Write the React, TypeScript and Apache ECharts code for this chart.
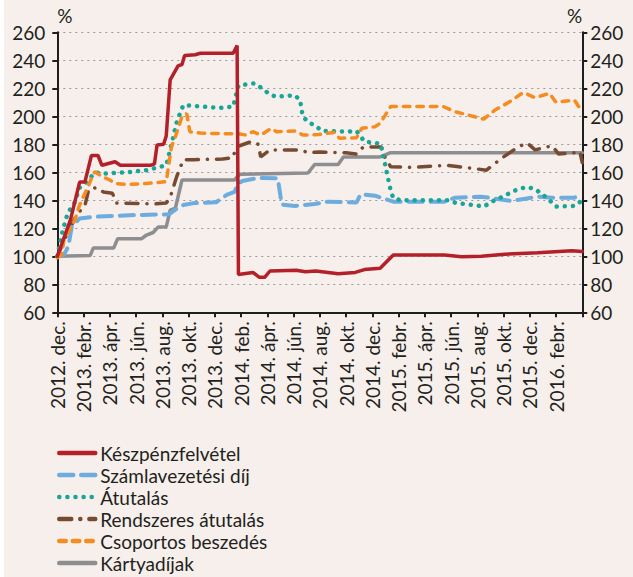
import React, { useEffect, useRef } from "react";
import * as echarts from "echarts";

// x = months since 2012 December
const xLabels = [
  "2012. dec.", "2013. febr.", "2013. ápr.", "2013. jún.", "2013. aug.", "2013. okt.", "2013. dec.",
  "2014. feb.", "2014. ápr.", "2014. jún.", "2014. aug.", "2014. okt.", "2014. dec.",
  "2015. febr.", "2015. ápr.", "2015. jún.", "2015. aug.", "2015. okt.", "2015. dec.", "2016. febr.",
];
const yTicks = [60, 260, 20];

const keszpenz = [
  [0, 100], [1.0, 126], [1.7, 153], [2.1, 153], [2.6, 172], [3.1, 172], [3.4, 165], [4.4, 167.5], [4.8, 165],
  [7.1, 165], [7.4, 166], [7.6, 179.5], [8.1, 180], [8.3, 186], [8.6, 226], [9.2, 236], [9.5, 237],
  [9.7, 243.5], [10.5, 244], [10.9, 245], [13.4, 245], [13.7, 250.5], [13.8, 87], [14.9, 88.5], [15.4, 85],
  [15.8, 85], [16.2, 89.5], [18.2, 90], [18.9, 89], [19.7, 89.5], [21.4, 87.5], [22.7, 88.5], [23.4, 90.5],
  [24.6, 91.5], [25.6, 101], [29.5, 101], [30.8, 99.7], [32.3, 100], [34.1, 101.5], [36.6, 102.5],
  [39.2, 104], [40, 103.5],
];
const szamla = [
  [0, 100], [0.5, 101], [0.84, 107], [1.1, 121], [1.7, 127], [2.9, 128.3], [6, 129.5], [8.5, 130],
  [9.1, 134], [9.6, 136.6], [10.4, 138], [12.1, 138.6], [12.9, 143.8], [13.5, 146], [13.8, 152],
  [14.1, 153.8], [15.3, 156], [16.8, 155.7], [17.1, 137], [18.1, 136], [19.6, 137.4], [20.6, 139],
  [22.8, 138.5], [23.1, 144.3], [24.2, 143.3], [25.6, 139], [29.5, 139], [30.3, 141.9], [32.3, 142.6],
  [34.6, 139.5], [36.6, 142.6], [37.7, 141.9], [39.4, 141.9], [40, 144],
];
const atutalas = [
  [0, 100], [0.4, 118], [0.8, 131], [1.3, 138], [1.7, 149], [2.1, 152], [2.9, 160], [3.5, 159], [5.3, 160],
  [6.8, 161.5], [8.3, 165], [8.7, 180], [9.1, 196], [9.6, 208], [10.9, 207], [12.4, 206], [13.4, 207],
  [13.8, 222], [15, 223.5], [15.6, 220], [16.2, 215.5], [16.7, 214], [18.1, 215], [18.5, 211.5],
  [18.7, 200], [19.1, 196], [19.6, 193.5], [20.2, 189.5], [22.1, 189], [22.8, 189.5], [23.4, 182],
  [24.6, 180.5], [24.8, 173.5], [25.1, 160], [25.4, 147], [25.6, 141.5], [26.2, 140], [29.8, 140],
  [30.4, 138], [31.8, 136.5], [32.5, 135.5], [33.1, 139], [33.9, 142.5], [35.1, 148], [35.8, 149.5],
  [36.4, 148], [37, 144], [37.5, 140], [38, 135.5], [39.4, 136], [40, 140],
];
const rendszeres = [
  [0, 100], [0.8, 117], [1.5, 130], [2.1, 136], [2.4, 148], [3.0, 149], [3.5, 146], [4.2, 145], [4.5, 138],
  [7.5, 137.5], [8.3, 138], [8.6, 142], [9.1, 157], [9.6, 169], [10.4, 169], [12.6, 169.5], [13.4, 170.5],
  [13.6, 178], [14.8, 182], [15.3, 180], [15.5, 171], [16.2, 176], [17.1, 176], [18.5, 176], [19.1, 174],
  [20, 174.5], [22, 174], [22.8, 173], [23.3, 178], [24.7, 178], [25.0, 170], [25.4, 164], [27, 163.5],
  [29.7, 165], [30.6, 164], [31.5, 163], [32.7, 161.5], [33.3, 166], [34, 171], [35.1, 178], [35.8, 181],
  [36.4, 176], [37.7, 179], [38.2, 173], [39.4, 174], [39.8, 175], [40, 167],
];
const csoportos = [
  [0, 99], [0.33, 101], [0.5, 111.6], [1.35, 126], [1.7, 136.6], [2.4, 151], [2.75, 159], [2.87, 160.4],
  [3.4, 157], [4, 154.5], [4.4, 152], [5.3, 151.4], [6.8, 152], [8.3, 153.3], [8.7, 178.3], [9, 185.4],
  [9.5, 199.7], [9.86, 202], [10.1, 189], [10.9, 188], [12.9, 187.5], [13.9, 187.4], [14.4, 186.6],
  [14.9, 189], [15.5, 186.6], [16.3, 191.4], [16.7, 189], [18.2, 189.5], [18.7, 186.6], [19.9, 187],
  [21.1, 188.5], [21.5, 184.3], [22.8, 184.7], [23.2, 191.4], [24.2, 192.6], [24.6, 195], [25.4, 207],
  [29.4, 207], [30.3, 203.3], [31.1, 201.4], [32.5, 198], [33.35, 204.5], [34.4, 210], [35.5, 217],
  [36.4, 213.3], [37.5, 216.4], [38, 210], [39.4, 211.6], [40, 203],
];
const kartya = [
  [0, 100], [2.5, 100.5], [2.75, 106], [4.3, 106], [4.6, 112.5], [6.4, 112.5], [6.8, 115.2], [7.3, 117],
  [7.7, 121], [8.3, 121], [8.6, 133], [9, 134.5], [9.5, 154.5], [13.5, 154.5], [13.9, 158.6], [19.1, 159.5],
  [19.6, 165.5], [21.4, 165.5], [21.8, 171], [24.6, 171], [25.4, 174], [40, 174],
];

const FONT = "Lato";
const TXT = "#231F20";

export default function App() {
  const ref = useRef<HTMLDivElement>(null);
  useEffect(() => {
    document.body.style.margin = "0";
    if (!ref.current) return;
    const chart = echarts.init(ref.current, null, { renderer: "svg" });
    const yAxisBase = (pos: "left" | "right") => ({
      type: "value" as const,
      position: pos,
      min: yTicks[0],
      max: yTicks[1],
      interval: yTicks[2],
      name: "%",
      nameLocation: "end" as const,
      nameGap: 7,
      nameTextStyle: { fontFamily: FONT, fontSize: 19, color: TXT, align: pos === "left" ? "left" : "right" },
      axisLine: { show: true, lineStyle: { color: "#1e1e1e", width: 2 } },
      axisTick: { show: true, length: 5, lineStyle: { color: "#1e1e1e", width: 2 } },
      axisLabel: { fontFamily: FONT, fontSize: 19, color: TXT, margin: pos === "left" ? 12 : 8 },
      splitLine: pos === "left"
        ? { show: true, lineStyle: { color: "#9a9a9a", width: 1, type: [2, 4] } }
        : { show: false },
    });
    const mk = (name: string, data: number[][], color: string, width: number, type: any, cap: string) => ({
      name,
      type: "line",
      data,
      symbol: "none",
      lineStyle: { color, width, type, cap },
      itemStyle: { color },
    });
    chart.setOption({
      animation: false,
      backgroundColor: "#F6EFEB",
      grid: { left: 53.3, right: 50.7, top: 32.3, bottom: 264.7 },
      xAxis: {
        type: "value",
        min: 0,
        max: 40,
        interval: 2,
        axisLine: { show: true, onZero: false, lineStyle: { color: "#1e1e1e", width: 2 } },
        axisTick: { show: true, length: 5, lineStyle: { color: "#1e1e1e", width: 2 } },
        axisLabel: {
          rotate: 90,
          margin: 9,
          fontFamily: FONT,
          fontSize: 19,
          color: TXT,
          showMinLabel: true,
          showMaxLabel: true,
          formatter: (v: number) => xLabels[Math.round(v / 2)] ?? "",
        },
        splitLine: { show: false },
      },
      yAxis: [yAxisBase("left"), yAxisBase("right")],
      legend: {
        orient: "vertical",
        left: 53,
        top: 442,
        height: 135,
        padding: 0,
        itemWidth: 36,
        itemHeight: 14,
        itemGap: 0,
        itemStyle: { opacity: 0 },
        lineStyle: { width: 4.5 },
        textStyle: { fontFamily: FONT, fontSize: 19, color: TXT, lineHeight: 22 },
        data: ["Készpénzfelvétel", "Számlavezetési díj", "Átutalás", "Rendszeres átutalás", "Csoportos beszedés", "Kártyadíjak"],
      },
      series: [
        mk("Kártyadíjak", kartya, "#8E8D90", 3.5, "solid", "round"),
        mk("Rendszeres átutalás", rendszeres, "#774B32", 3.5, [12, 9, 0.1, 9], "round"),
        mk("Számlavezetési díj", szamla, "#6CACDF", 4, [14, 8], "round"),
        mk("Átutalás", atutalas, "#1AA697", 4.5, [0.1, 8], "round"),
        mk("Csoportos beszedés", csoportos, "#F68B1F", 3.5, [6.5, 7], "round"),
        mk("Készpénzfelvétel", keszpenz, "#B3202A", 3.5, "solid", "round"),
      ],
    });
    return () => chart.dispose();
  }, []);
  return (
    <div style={{ width: 633, height: 577, background: "#ffffff", position: "relative" }}>
      <div ref={ref} style={{ position: "absolute", left: 4, top: 0, width: 629, height: 577 }} />
    </div>
  );
}
